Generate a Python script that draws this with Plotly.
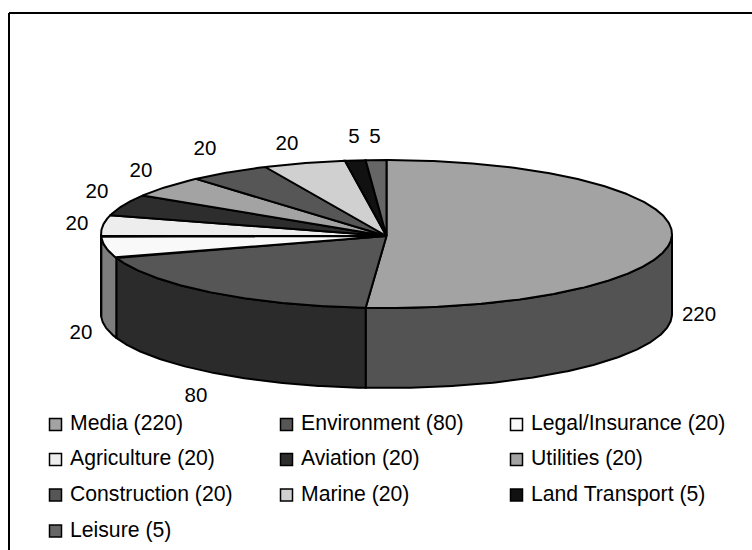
import numpy as np
import plotly.graph_objects as go

categories = ["Media", "Environment", "Legal/Insurance", "Agriculture", "Aviation",
              "Utilities", "Construction", "Marine", "Land Transport", "Leisure"]
values = [220, 80, 20, 20, 20, 20, 20, 20, 5, 5]
top_colors = ["#a3a3a3", "#565656", "#f9f9f9", "#ededed", "#2d2d2d",
              "#a3a3a3", "#565656", "#d0d0d0", "#111111", "#666666"]
side_colors = ["#535353", "#2b2b2b", "#7d7d7d", "#7d7d7d", "#2b2b2b",
               "#535353", "#2b2b2b", "#666666", "#0a0a0a", "#333333"]
label_x = [699, 196, 81, 77, 97, 141, 205, 287, 354, 375]
label_y = [316, 397, 334, 225, 193, 172, 150, 145, 138, 138]
legend_x = [55.5, 286.5, 516.5]
legend_y = [424.5, 459.5, 495, 531]

CX, CY, RX, RY, DEPTH = 386.5, 234, 285.5, 74, 80
APEX_Y = 236
FONT = dict(family="Liberation Sans, Arial, sans-serif", size=20.5, color="#000000")
LEGEND_FONT = dict(family="Liberation Sans, Arial, sans-serif", size=21.2, color="#000000")
LINE = dict(color="#000000", width=2)

cum = np.cumsum([0] + values)
angles = 360.0 * cum / cum[-1]


def rim(a0, a1, dy=0.0):
    t = np.radians(np.linspace(a0, a1, max(3, int(abs(a1 - a0) * 2) + 1)))
    return CX + RX * np.sin(t), CY - RY * np.cos(t) + dy


fig = go.Figure()


def poly(x, y, color):
    fig.add_trace(go.Scatter(x=list(x), y=list(y), mode="lines", fill="toself",
                             fillcolor=color, line=LINE, hoverinfo="skip",
                             showlegend=False))


# Cylinder wall: only the front half (90..270 degrees) faces the viewer
for i in range(len(values)):
    a0, a1 = max(angles[i], 90), min(angles[i + 1], 270)
    if a1 <= a0:
        continue
    xt, yt = rim(a0, a1)
    xb, yb = rim(a0, a1, DEPTH)
    poly(np.r_[xt, xb[::-1], xt[0]], np.r_[yt, yb[::-1], yt[0]], side_colors[i])

# Top face wedges
for i in range(len(values)):
    xt, yt = rim(angles[i], angles[i + 1])
    poly(np.r_[CX, xt, CX], np.r_[APEX_Y, yt, APEX_Y], top_colors[i])

# Value labels
fig.add_trace(go.Scatter(x=label_x, y=label_y, mode="text", text=[str(v) for v in values],
                         textposition="middle center", textfont=FONT,
                         hoverinfo="skip", showlegend=False))

# Legend, three columns
lx = [legend_x[i % 3] for i in range(len(values))]
ly = [legend_y[i // 3] for i in range(len(values))]
fig.add_trace(go.Scatter(x=lx, y=ly, mode="markers",
                         marker=dict(symbol="square", size=12, color=top_colors,
                                     line=dict(color="#000000", width=1.5)),
                         hoverinfo="skip", showlegend=False))
fig.add_trace(go.Scatter(x=[v + 14.5 for v in lx], y=[v + 0.5 for v in ly], mode="text",
                         text=[f"{c} ({v})" for c, v in zip(categories, values)],
                         textposition="middle right", textfont=LEGEND_FONT,
                         hoverinfo="skip", showlegend=False))

fig.update_layout(
    width=752, height=550, margin=dict(l=0, r=0, t=0, b=0),
    paper_bgcolor="#ffffff", plot_bgcolor="#ffffff",
    xaxis=dict(range=[0, 752], visible=False, fixedrange=True),
    yaxis=dict(range=[550, 0], visible=False, fixedrange=True),
    shapes=[
        dict(type="line", xref="x", yref="y", x0=9, x1=752, y0=13, y1=13,
             line=dict(color="#000000", width=2)),
        dict(type="line", xref="x", yref="y", x0=9, x1=9, y0=13, y1=550,
             line=dict(color="#000000", width=2)),
    ],
)
fig.write_html("out.html", config=dict(displayModeBar=False),
               post_script="document.body.style.margin='0';document.documentElement.style.overflow='hidden';")
